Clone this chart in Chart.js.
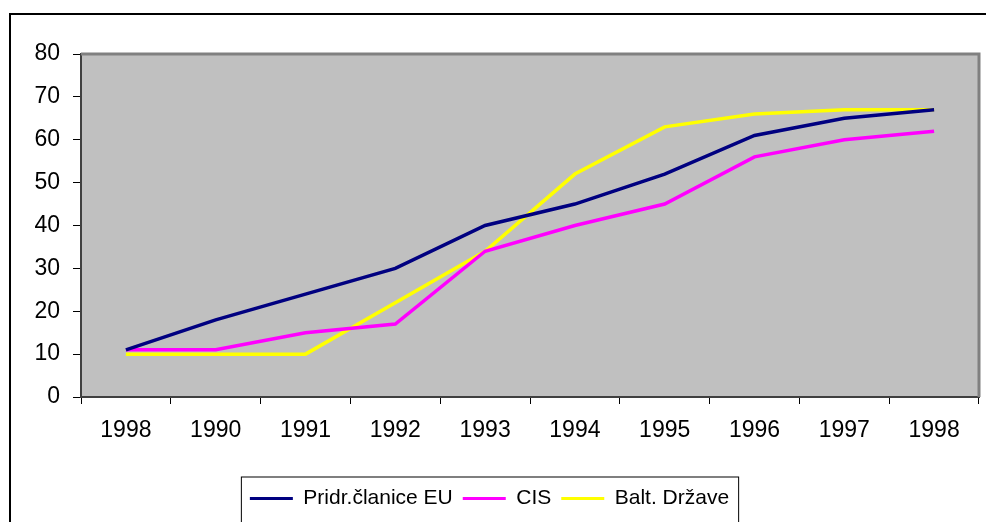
<!DOCTYPE html>
<html>
<head>
<meta charset="utf-8">
<script src="https://cdn.jsdelivr.net/npm/chart.js@4.4.1/dist/chart.umd.min.js"></script>
<style>
  html, body { margin: 0; padding: 0; background: #fff; }
  #wrap { width: 986px; height: 522px; }
</style>
</head>
<body>
<div id="wrap"><canvas id="grafico"></canvas></div>
<script>
// Dati
const godine = ['1998', '1990', '1991', '1992', '1993', '1994', '1995', '1996', '1997', '1998'];
const euClanice = [11, 18, 24, 30, 40, 45, 52, 61, 65, 67];
const cis = [11, 11, 15, 17, 34, 40, 45, 56, 60, 62];
const baltDrzave = [10, 10, 10, 22, 34, 52, 63, 66, 67, 67];
const yTicks = [0, 10, 20, 30, 40, 50, 60, 70, 80];

Chart.defaults.font.family = "'Liberation Sans', Arial, sans-serif";
Chart.defaults.color = '#000';

// sfondo grigio dell'area e cornice esterna
const okvir = {
    id: 'okvir',
    beforeDraw(chart) {
        const { ctx, chartArea: a } = chart;
        ctx.save();
        ctx.fillStyle = '#c0c0c0';
        ctx.fillRect(a.left, a.top, a.right - a.left, a.bottom - a.top);
        ctx.strokeStyle = '#000';
        ctx.lineWidth = 2;
        ctx.beginPath();
        ctx.moveTo(10, 530);
        ctx.lineTo(10, 14);
        ctx.lineTo(990, 14);
        ctx.stroke();
        ctx.restore();
    },
    afterDatasetsDraw(chart) {
        const { ctx, chartArea: a } = chart;
        ctx.save();
        ctx.strokeStyle = '#808080';
        ctx.lineWidth = 3;
        ctx.beginPath();
        ctx.moveTo(a.left, a.top);
        ctx.lineTo(a.right, a.top);
        ctx.lineTo(a.right, a.bottom);
        ctx.stroke();
        ctx.restore();
    },
    afterDraw(chart) {
        // riquadro della legenda
        const boxes = chart.legend.legendHitBoxes;
        if (!boxes || !boxes.length) return;
        const first = boxes[0], last = boxes[boxes.length - 1];
        const { ctx } = chart;
        ctx.save();
        ctx.strokeStyle = '#000';
        ctx.lineWidth = 1;
        ctx.strokeRect(first.left - 8.5, first.top + first.height / 2 - 21.5, last.left + last.width - first.left + 18, 60);
        ctx.restore();
    }
};

function serija(label, data, color) {
    return {
        label: label,
        data: data,
        borderColor: color,
        backgroundColor: color,
        borderWidth: 3.5,
        pointRadius: 0,
        tension: 0
    };
}

new Chart(document.getElementById('grafico'), {
    type: 'line',
    data: {
        labels: godine,
        datasets: [
            serija('Pridr.članice EU', euClanice, '#000080'),
            serija('CIS', cis, '#ff00ff'),
            serija('Balt. Države', baltDrzave, '#ffff00')
        ]
    },
    options: {
        responsive: true,
        maintainAspectRatio: false,
        animation: false,
        layout: { padding: { left: 0, top: 54, right: 7, bottom: 3 } },
        plugins: {
            tooltip: { enabled: false },
            legend: {
                position: 'bottom',
                labels: {
                    font: { size: 21 },
                    boxWidth: 43,
                    boxHeight: 3,
                    padding: 10,
                    generateLabels(chart) {
                        return Chart.defaults.plugins.legend.labels.generateLabels(chart)
                            .map(l => Object.assign(l, { lineWidth: 0 }));
                    }
                }
            }
        },
        scales: {
            x: {
                offset: true,
                grid: { offset: true, drawOnChartArea: false, tickLength: 7, color: '#000' },
                border: { color: '#404040', width: 2 },
                ticks: { font: { size: 23 }, padding: 13, maxRotation: 0, autoSkip: false },
                afterFit(scale) { scale.height = 81; }
            },
            y: {
                min: 0,
                max: 80,
                afterBuildTicks(scale) { scale.ticks = yTicks.map(v => ({ value: v })); },
                grid: { drawOnChartArea: false, tickLength: 8, color: '#000' },
                border: { color: '#404040', width: 2 },
                ticks: { font: { size: 23 }, padding: 13 },
                afterFit(scale) { scale.width = 81; }
            }
        }
    },
    plugins: [okvir]
});
</script>
</body>
</html>
